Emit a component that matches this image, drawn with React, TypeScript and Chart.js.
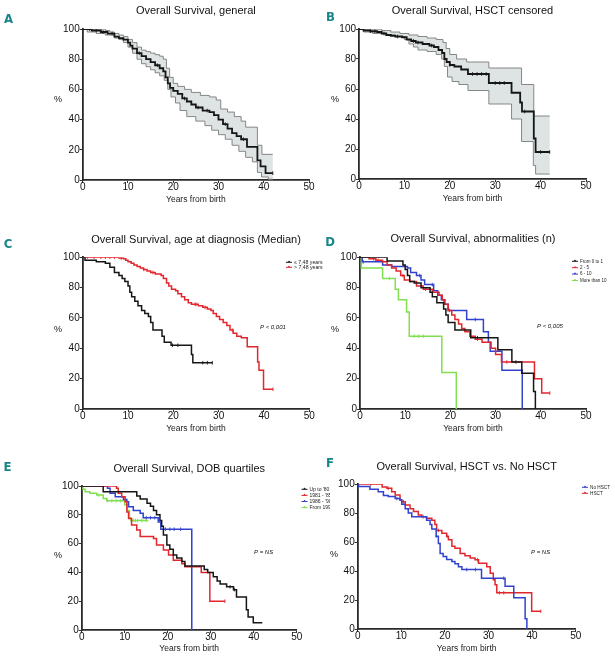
import React, { useEffect, useRef } from "react";
import { Chart, registerables } from "chart.js";
Chart.register(...registerables);

const FONT = '"Liberation Sans", Arial, Helvetica, sans-serif';
const X_TICKS = [0, 10, 20, 30, 40, 50];
const Y_TICKS = [0, 20, 40, 60, 80, 100];
const X_LABEL = "Years from birth";
const Y_LABEL = "%";

const BLACK = "#161616";
const RED = "#e2262c";
const BLUE = "#3142cf";
const GREEN = "#80df50";
const BAND = "#dde4e3";
const BAND_LINE = "#7a7a7a";
const TEAL = "#17858a";

// ---------- Panel A: Overall Survival, general ----------
const aTime = [0, 2, 4, 5.5, 7, 8, 9, 10, 10.5, 11, 12, 13, 14, 15, 16, 17, 17.8, 18.3, 18.8, 19.3, 20, 21, 22, 23, 24, 25, 26.5, 28, 29, 30, 31, 32, 33, 34, 35, 36.3, 38.6, 39.3, 40.4, 42];
const aSurv = [100, 99, 98, 97, 95, 94, 93, 91, 89, 87, 84, 82, 80, 78, 76, 74, 72, 68, 64, 61, 59, 57, 54, 52, 50, 48, 46, 45, 43, 40, 37, 34, 31, 29, 27, 22, 13, 9, 4.5, 4.5];
const aUpperTime = [0, 5, 6, 7, 8, 9, 10, 11, 12, 13, 14, 15, 16, 17, 17.8, 18.5, 19.2, 20, 21, 22.5, 24, 26, 28, 29.5, 30.5, 32, 33.5, 35, 36, 38.6, 39.6, 42];
const aUpperSurv = [100, 99, 98, 97, 96, 95, 93, 91, 88, 86, 85, 84, 83, 82, 80, 74, 68, 64, 62, 60, 58, 56, 55, 53, 47, 45, 42, 39, 35, 23, 17, 17];
const aLowerTime = [0, 1, 3, 5, 7, 8, 9, 10, 11, 12, 13, 14, 15, 16, 17, 18, 18.8, 19.5, 20.5, 21.5, 23, 25, 27, 28.5, 30, 31.5, 33, 34.5, 36, 37.5, 38.6, 39.5, 41, 42];
const aLowerSurv = [100, 98, 97, 96, 94, 93, 91, 88, 84, 80, 77, 75, 73, 71, 69, 66, 60, 55, 51, 46, 42, 39, 36, 33, 30, 27, 23, 19, 15, 12, 5, 2, 0.5, 0.5];
const aCensor = [1.5, 3, 4.5, 6.5, 12.5, 16.5, 22.5, 25.5, 27.5, 31.5, 35.5, 42];

// ---------- Panel B: Overall Survival, HSCT censored ----------
const bTime = [0, 1, 2.5, 4, 5, 6, 7, 8, 9.5, 10.5, 11.5, 12.5, 14, 15.5, 16.5, 17.5, 18.3, 18.8, 19.3, 20, 21, 22.5, 24, 28.6, 33.6, 35.5, 35.9, 38.5, 38.9, 42];
const bSurv = [100, 99, 98.5, 98, 97, 96, 95.5, 95, 94.5, 93, 92, 91, 90, 89, 88, 86, 84, 80, 78, 76, 75, 73, 70, 64, 57.5, 51, 45, 27, 18, 18];
const bUpperTime = [0, 5, 7, 9, 11, 13, 15, 17, 18.5, 19.2, 20, 21.5, 23.7, 28.6, 35.8, 38.5, 42];
const bUpperSurv = [100, 99, 98, 97, 96, 95, 94, 93, 91, 87, 83, 80, 78, 74, 63, 42, 42];
const bLowerTime = [0, 1, 3, 6, 8, 10, 11, 12, 13, 15, 17, 18.2, 18.8, 19.5, 20.5, 22, 24, 28.6, 33.6, 35.8, 38.4, 38.9, 42];
const bLowerSurv = [100, 98, 97, 96, 95, 93, 90, 88, 86, 85, 83, 80, 75, 68, 65, 63, 59, 50, 40, 25, 9, 3.3, 3.3];
const bCensor = [2.5, 3.5, 5.5, 8.5, 12, 13, 16, 20, 25, 26, 27, 28, 30, 31, 32, 36.5, 40, 42];

// ---------- Panel C: age at diagnosis (Median) ----------
const cLegend = ["≤ 7,48 years", "> 7,48 years"];
const cLowTime = [0, 0.5, 3, 5, 6, 7, 8, 8.7, 9.3, 10, 10.4, 10.8, 11.5, 12.2, 13, 13.7, 14.5, 15, 15.5, 17.5, 18, 19.5, 24, 24.3, 28.6];
const cLowSurv = [100, 98, 97, 96, 93.5, 90, 88, 86, 84, 81, 77, 74, 71, 68, 65, 63, 61, 57, 52, 48, 44, 42, 36, 30.5, 30.5];
const cLowCensor = [19.8, 21, 26.5, 27.5, 28.6];
const cHighTime = [0, 8, 9, 9.5, 10, 10.7, 11.3, 12, 12.7, 13.4, 14.2, 15, 16, 17.3, 17.8, 18.5, 19, 19.6, 20.5, 21, 21.8, 22.5, 23.3, 24, 25.5, 26.5, 27.5, 28.3, 28.8, 29.5, 30.2, 31, 31.8, 32.5, 33.2, 34, 35, 36.3, 38.6, 38.9, 39.9, 42];
const cHighSurv = [100, 99.5, 99, 98, 97, 96, 95, 94, 93, 92, 91, 90, 89, 88, 86, 83, 81, 79, 78, 76, 74, 72, 70, 69, 68, 67, 66, 65, 63, 61, 59, 57, 55, 52, 50, 48, 47, 41, 31, 25.5, 13, 13];
const cHighCensor = [1, 2.5, 4, 5, 6, 7, 8.5, 13.5, 15.5, 24.8, 25, 27, 33, 42];
const cPValue = "P < 0,001";

// ---------- Panel D: abnormalities (n) ----------
const dLegend = ["From 0 to 1", "2 - 5", "6 - 10", "More than 10"];
const d01Time = [0, 6, 9.5, 10, 10.5, 11, 12, 13.5, 15.5, 16, 17, 18.5, 19, 19.5, 21, 24.5, 30.5, 33.6, 35.8, 38.4, 38.8];
const d01Surv = [100, 97.5, 95, 92, 88, 84, 83, 80, 77, 74, 70, 66, 62, 57, 52, 47, 39, 31, 23.5, 11.5, 0];
const d01Censor = [26, 34.5];
const d25Time = [0, 2, 3.5, 5, 6, 7, 8, 9, 9.8, 11, 12.5, 14, 16, 17.5, 18.2, 18.8, 19.5, 20.3, 21, 21.8, 22.5, 23.2, 24.3, 25.5, 27, 29, 30, 31.3, 38.6, 40.2, 42];
const d25Surv = [100, 99, 98, 97, 95, 93, 91, 88, 85, 84, 81, 79, 77, 75, 72, 69, 65, 62, 59, 56, 53, 51, 48, 46, 44, 40, 36, 31, 20, 10.5, 10.5];
const d25Censor = [3, 4, 9.5, 14.5, 19.8, 26, 32.5, 42];
const d610Time = [0, 0.5, 5, 7, 10.5, 11.2, 12.5, 13.5, 14.3, 16.3, 17.2, 18, 18.6, 19.5, 23.6, 27.3, 28.4, 28.8, 31.4, 35.9];
const d610Surv = [100, 97, 95, 94, 93, 90, 88, 85, 82, 78, 75, 72, 69, 65, 59, 51, 44, 38, 25.5, 0];
const d610Censor = [0.7, 13.2, 16, 25.5];
const d10Time = [0, 0.3, 5, 7.8, 8.5, 10.3, 10.9, 18.1, 21.3];
const d10Surv = [100, 93, 86, 79, 72, 64, 48, 24, 0];
const d10Censor = [6.5, 12, 13, 14];
const dPValue = "P < 0,005";

// ---------- Panel E: DOB quartiles ----------
const eLegend = ["Up to '80", "1981 - '85", "1986 - '90", "From 1991"];
const e1Time = [0, 5, 12.8, 13.6, 15.2, 16, 16.7, 17.4, 18.2, 18.6, 19, 19.8, 20.5, 21.3, 22.1, 23.3, 24, 28.5, 29.3, 30.6, 31.5, 32.2, 33.7, 35.3, 36, 38.3, 38.7, 39.9, 42];
const e1Surv = [100, 96, 93, 91, 88, 86, 83, 80, 76, 72, 66, 59, 56, 52, 50, 47.5, 44.5, 42, 40, 37, 34, 32, 30, 28, 23, 14, 9, 5, 5];
const e1Censor = [34.5, 35.5];
const e2Time = [0, 8.1, 8.5, 9.3, 10.1, 10.5, 10.9, 11.6, 12.8, 13.6, 16.7, 17.4, 19, 20.2, 21.3, 23.3, 24, 27.8, 29.8, 33.3];
const e2Surv = [100, 98.4, 95, 92.5, 89, 82, 77.5, 73, 69.5, 65, 63.5, 59, 55.5, 52, 48.5, 46, 44, 40, 20, 20];
const e2Censor = [33.3];
const e3Time = [0, 6, 6.6, 7.8, 9.7, 10.5, 10.9, 12, 13.6, 14.3, 17.8, 18.4, 25.6];
const e3Surv = [100, 98.4, 95, 92.6, 90.7, 89, 85.6, 83, 81, 78, 75, 70, 0];
const e3Censor = [15, 16, 17, 19.5, 20.5, 21.5, 23];
const e4Time = [0, 0.3, 0.8, 1.9, 3.5, 5, 5.8, 10, 10.6, 11.1, 11.4, 15.5];
const e4Surv = [100, 97.7, 96, 95, 93.7, 91.4, 89.8, 87, 83, 78, 76, 76];
const e4Censor = [4, 6, 7, 8, 9, 12, 12.5, 13, 14, 15];
const ePValue = "P = NS";

// ---------- Panel F: HSCT vs. No HSCT ----------
const fLegend = ["No HSCT", "HSCT"];
const fNoTime = [0, 0.2, 2.8, 4.7, 5.9, 7, 8.6, 9.7, 10.1, 10.9, 11.6, 12.4, 15.8, 16.6, 17, 18, 18.5, 18.9, 19.6, 20.4, 21.6, 22.3, 23.1, 23.9, 28.4, 33.8, 35.8, 38.4, 38.8];
const fNoSurv = [100, 98.2, 96.3, 94.7, 92, 91.3, 90, 89, 86, 83, 80, 77.5, 75, 72, 69, 64, 59, 52, 50, 48, 46.5, 45, 43, 41, 35, 29.4, 21.6, 7, 0];
const fNoCensor = [9, 18, 25, 27, 33.5];
const fYesTime = [0, 5.6, 6.7, 7.8, 8.6, 9.7, 10.1, 10.9, 12, 12.8, 13.9, 14.7, 15.8, 17, 17.7, 18.1, 19.3, 20.4, 20.8, 21.6, 22.3, 23.5, 24.6, 25.8, 26.9, 27.7, 29.6, 30.4, 31.1, 31.5, 31.9, 39.9, 42];
const fYesSurv = [100, 98, 97, 94.7, 92.4, 89, 87.8, 85.6, 83, 81, 78.7, 77.5, 76.4, 75, 72, 68, 66, 64, 61.5, 57, 55.7, 52, 50.5, 49, 47.7, 45.4, 43, 38.5, 34, 30.5, 25, 12.2, 12.2];
const fYesCensor = [3, 7, 10.5, 15, 18.5, 20.5, 27.5, 32.5, 33.5, 42];
const fPValue = "P = NS";

type Curve = { t: number[]; s: number[]; color: string; width?: number; censor?: number[] };
type Band = { ut: number[]; us: number[]; lt: number[]; ls: number[] };
type Legend = { x: number; y: number; dy: number; size: number; labels: string[]; colors: string[] };
type PanelDef = {
  letter: string;
  letterPos: [number, number];
  title: string;
  titleY: number;
  box: { left: number; top: number; width: number; height: number };
  plot: { x0: number; x1: number; yTop: number; yBot: number };
  yLabelPos: [number, number];
  curves: Curve[];
  band?: Band;
  legend?: Legend;
  pval?: { text: string; x: number; y: number };
};

const pts = (t: number[], s: number[]) => t.map((x, i) => ({ x, y: s[i] }));
const stepAt = (t: number[], s: number[], x: number) => {
  let v = s[0];
  for (let i = 0; i < t.length; i++) if (t[i] <= x) v = s[i];
  return v;
};

const panels: PanelDef[] = [
  {
    letter: "A", letterPos: [8.5, 19.5], title: "Overall Survival, general", titleY: 11,
    box: { left: 0, top: 0, width: 321, height: 205 },
    plot: { x0: 82.7, x1: 309, yTop: 29, yBot: 180 }, yLabelPos: [58, 100],
    curves: [{ t: aTime, s: aSurv, color: BLACK, width: 1.8, censor: aCensor }],
    band: { ut: aUpperTime, us: aUpperSurv, lt: aLowerTime, ls: aLowerSurv },
  },
  {
    letter: "B", letterPos: [330.5, 17.5], title: "Overall Survival, HSCT censored", titleY: 10.5,
    box: { left: 305, top: 0, width: 293, height: 204 },
    plot: { x0: 359, x1: 586, yTop: 29, yBot: 179 }, yLabelPos: [335, 100],
    curves: [{ t: bTime, s: bSurv, color: BLACK, width: 1.8, censor: bCensor }],
    band: { ut: bUpperTime, us: bUpperSurv, lt: bLowerTime, ls: bLowerSurv },
  },
  {
    letter: "C", letterPos: [8, 244.5], title: "Overall Survival, age at diagnosis (Median)", titleY: 240,
    box: { left: 0, top: 215, width: 325, height: 219 },
    plot: { x0: 82.7, x1: 309.3, yTop: 257.3, yBot: 409 }, yLabelPos: [58, 330],
    curves: [
      { t: cLowTime, s: cLowSurv, color: BLACK, censor: cLowCensor },
      { t: cHighTime, s: cHighSurv, color: RED, censor: cHighCensor },
    ],
    legend: { x: 286, y: 262.3, dy: 5, size: 5.2, labels: cLegend, colors: [BLACK, RED] },
    pval: { text: cPValue, x: 260, y: 327 },
  },
  {
    letter: "D", letterPos: [330, 242.5], title: "Overall Survival, abnormalities (n)", titleY: 239,
    box: { left: 305, top: 215, width: 310, height: 219 },
    plot: { x0: 360, x1: 586, yTop: 257.3, yBot: 409 }, yLabelPos: [335, 330],
    curves: [
      { t: d01Time, s: d01Surv, color: BLACK, censor: d01Censor },
      { t: d25Time, s: d25Surv, color: RED, censor: d25Censor },
      { t: d610Time, s: d610Surv, color: BLUE, censor: d610Censor },
      { t: d10Time, s: d10Surv, color: GREEN, censor: d10Censor },
    ],
    legend: { x: 572, y: 261.3, dy: 6.4, size: 4.5, labels: dLegend, colors: [BLACK, RED, BLUE, GREEN] },
    pval: { text: dPValue, x: 537, y: 326 },
  },
  {
    letter: "E", letterPos: [7.5, 467.5], title: "Overall Survival, DOB quartiles", titleY: 469,
    box: { left: 0, top: 440, width: 330, height: 214 },
    plot: { x0: 81.7, x1: 296.7, yTop: 486, yBot: 630 }, yLabelPos: [58, 556],
    curves: [
      { t: e1Time, s: e1Surv, color: BLACK, censor: e1Censor },
      { t: e2Time, s: e2Surv, color: RED, censor: e2Censor },
      { t: e3Time, s: e3Surv, color: BLUE, censor: e3Censor },
      { t: e4Time, s: e4Surv, color: GREEN, censor: e4Censor },
    ],
    legend: { x: 301.5, y: 489.3, dy: 6.1, size: 5, labels: eLegend, colors: [BLACK, RED, BLUE, GREEN] },
    pval: { text: ePValue, x: 254, y: 552 },
  },
  {
    letter: "F", letterPos: [330, 464], title: "Overall Survival, HSCT vs. No HSCT", titleY: 467,
    box: { left: 305, top: 440, width: 310, height: 214 },
    plot: { x0: 357.7, x1: 575.7, yTop: 484, yBot: 629 }, yLabelPos: [334, 555],
    curves: [
      { t: fNoTime, s: fNoSurv, color: BLUE, censor: fNoCensor },
      { t: fYesTime, s: fYesSurv, color: RED, censor: fYesCensor },
    ],
    legend: { x: 582, y: 487.3, dy: 6, size: 4.7, labels: fLegend, colors: [BLUE, RED] },
    pval: { text: fPValue, x: 531, y: 552 },
  },
];

function makeConfig(p: PanelDef): any {
  const { box, plot } = p;
  const yW = plot.x0 - box.left;
  const padTop = plot.yTop - box.top;
  const padRight = box.left + box.width - plot.x1;
  const xH = box.top + box.height - plot.yBot;

  const datasets: any[] = [];
  p.curves.forEach((c) => {
    datasets.push({
      data: pts(c.t, c.s), borderColor: c.color, borderWidth: c.width ?? 1.5,
      stepped: "before", pointRadius: 0, fill: false,
    });
  });
  p.curves.forEach((c) => {
    if (!c.censor) return;
    datasets.push({
      data: c.censor.map((x) => ({ x, y: stepAt(c.t, c.s, x) })), showLine: false,
      pointStyle: "line", pointRotation: 90, pointRadius: 1.8, pointBorderWidth: 0.9,
      pointBorderColor: c.color, borderColor: c.color, fill: false,
    });
  });
  if (p.band) {
    datasets.push({
      data: pts(p.band.ut, p.band.us), borderColor: BAND_LINE, borderWidth: 0.9,
      stepped: "before", pointRadius: 0, fill: false,
    });
    datasets.push({
      data: pts(p.band.lt, p.band.ls), borderColor: BAND_LINE, borderWidth: 0.9,
      stepped: "before", pointRadius: 0, fill: false,
    });
  }

  // fills the confidence band between the stepped upper and lower bounds
  const bandFill = {
    id: "bandFill",
    beforeDatasetsDraw(chart: any) {
      if (!p.band) return;
      const xs = chart.scales.x;
      const ys = chart.scales.y;
      const X = (v: number) => xs.getPixelForValue(v);
      const Y = (v: number) => ys.getPixelForValue(v);
      const { ut, us, lt, ls } = p.band;
      const ctx = chart.ctx as CanvasRenderingContext2D;
      ctx.save();
      ctx.beginPath();
      ctx.moveTo(X(ut[0]), Y(us[0]));
      for (let i = 1; i < ut.length; i++) {
        ctx.lineTo(X(ut[i]), Y(us[i - 1]));
        ctx.lineTo(X(ut[i]), Y(us[i]));
      }
      const n = lt.length;
      ctx.lineTo(X(lt[n - 1]), Y(ls[n - 1]));
      for (let i = n - 1; i >= 1; i--) {
        ctx.lineTo(X(lt[i]), Y(ls[i - 1]));
        ctx.lineTo(X(lt[i - 1]), Y(ls[i - 1]));
      }
      ctx.closePath();
      ctx.fillStyle = BAND;
      ctx.fill();
      ctx.restore();
    },
  };

  const decor = {
    id: "decor",
    afterDraw(chart: any) {
      const ctx = chart.ctx as CanvasRenderingContext2D;
      const ca = chart.chartArea;
      ctx.save();
      ctx.translate(-box.left, -box.top);
      ctx.fillStyle = "#111";
      ctx.font = `11px ${FONT}`;
      ctx.textAlign = "center";
      ctx.textBaseline = "middle";
      ctx.fillText(p.title, (ca.left + ca.right) / 2 + box.left, p.titleY);
      ctx.font = `9px ${FONT}`;
      ctx.fillText(Y_LABEL, p.yLabelPos[0], p.yLabelPos[1]);
      ctx.fillStyle = TEAL;
      ctx.font = `bold 13px "DejaVu Sans Condensed", "Liberation Sans Narrow", ${FONT}`;
      ctx.fillText(p.letter, p.letterPos[0], p.letterPos[1]);
      if (p.pval) {
        ctx.fillStyle = "#111";
        ctx.font = `italic 6px ${FONT}`;
        ctx.textAlign = "left";
        ctx.fillText(p.pval.text, p.pval.x, p.pval.y);
      }
      if (p.legend) {
        const lg = p.legend;
        lg.labels.forEach((label, i) => {
          const y = lg.y + i * lg.dy;
          const col = lg.colors[i];
          ctx.strokeStyle = col;
          ctx.lineWidth = 1;
          ctx.beginPath();
          ctx.moveTo(lg.x, y);
          ctx.lineTo(lg.x + 6, y);
          ctx.stroke();
          ctx.fillStyle = col;
          ctx.beginPath();
          ctx.moveTo(lg.x + 3, y - 1.8);
          ctx.lineTo(lg.x + 4.4, y);
          ctx.lineTo(lg.x + 1.6, y);
          ctx.closePath();
          ctx.fill();
          ctx.fillStyle = "#222";
          ctx.font = `${lg.size}px ${FONT}`;
          ctx.textAlign = "left";
          ctx.textBaseline = "middle";
          ctx.fillText(label, lg.x + 8, y);
        });
      }
      ctx.restore();
    },
  };

  const axisCommon = {
    type: "linear",
    grid: { display: true, drawOnChartArea: false, drawTicks: true, tickLength: 3, color: "#333", lineWidth: 1 },
    border: { display: true, color: "#2a2a2a", width: 1.8 },
  };

  return {
    type: "line",
    data: { datasets },
    options: {
      responsive: false,
      animation: false,
      devicePixelRatio: 1,
      layout: { padding: { left: 0, top: padTop, right: padRight, bottom: 0 } },
      plugins: { legend: { display: false }, tooltip: { enabled: false }, title: { display: false } },
      elements: { point: { radius: 0 } },
      scales: {
        x: {
          ...axisCommon,
          min: 0, max: 50,
          afterBuildTicks: (s: any) => { s.ticks = X_TICKS.map((v) => ({ value: v })); },
          afterFit: (s: any) => { s.height = xH; },
          ticks: { font: { family: FONT, size: 10, lineHeight: 1 }, color: "#111", padding: -1, maxRotation: 0, autoSkip: false },
          title: { display: true, text: X_LABEL, font: { family: FONT, size: 8.5 }, color: "#222", padding: 0 },
        },
        y: {
          ...axisCommon,
          min: 0, max: 100,
          afterBuildTicks: (s: any) => { s.ticks = Y_TICKS.map((v) => ({ value: v })); },
          afterFit: (s: any) => { s.width = yW; },
          ticks: { font: { family: FONT, size: 10 }, color: "#111", padding: 0, autoSkip: false },
        },
      },
    },
    plugins: [bandFill, decor],
  };
}

function Panel({ p }: { p: PanelDef }) {
  const ref = useRef<HTMLCanvasElement>(null);
  useEffect(() => {
    const chart = new Chart(ref.current as HTMLCanvasElement, makeConfig(p));
    return () => chart.destroy();
  }, []);
  const { box } = p;
  return (
    <canvas
      ref={ref}
      width={box.width}
      height={box.height}
      style={{ position: "absolute", left: box.left, top: box.top, width: box.width, height: box.height }}
    />
  );
}

export default function App() {
  return (
    <div style={{ position: "absolute", left: 0, top: 0, width: 615, height: 657, background: "#fff", overflow: "hidden" }}>
      {panels.map((p) => (
        <Panel key={p.letter} p={p} />
      ))}
    </div>
  );
}
